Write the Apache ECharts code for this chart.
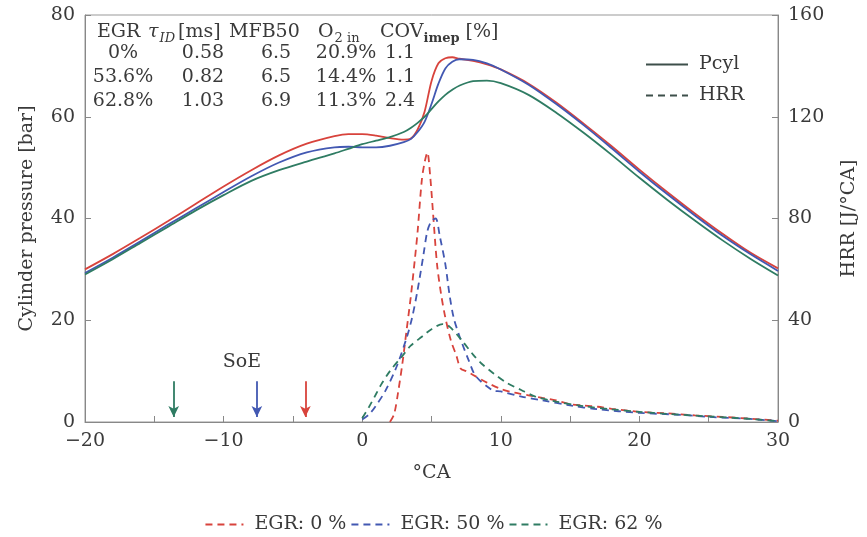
<!DOCTYPE html>
<html>
<head>
<meta charset="utf-8">
<script src="https://cdn.jsdelivr.net/npm/echarts@6/dist/echarts.min.js"></script>
<style>
  html, body { margin: 0; padding: 0; background: #fff; }
  #main { width: 867px; height: 537px; }
</style>
</head>
<body>
<div id="main"></div>
<script>
// crank angle grid for the pressure traces
var caP = [-20, -18, -16, -14, -12, -10, -8, -6, -4, -2, -1, 0, 1, 2, 3, 3.5, 4, 4.5, 5, 5.5, 6, 6.5, 7, 8, 9, 10, 12, 14, 16, 18, 20, 22, 24, 26, 28, 30];
var p0  = [30, 33, 36.2, 39.5, 42.9, 46.3, 49.5, 52.4, 54.7, 56.2, 56.6, 56.6, 56.3, 55.8, 55.5, 55.7, 57.5, 61, 67, 70.5, 71.5, 71.7, 71.4, 71, 70.3, 69.3, 66.5, 62.8, 58.6, 54.2, 49.6, 45.2, 41, 37, 33.3, 30.2];
var p50 = [29.3, 32.3, 35.5, 38.8, 42, 45.2, 48.3, 51, 53, 54, 54.1, 54, 54, 54.3, 55, 55.6, 57, 59, 62.5, 66.5, 69.5, 70.8, 71.3, 71.2, 70.5, 69.3, 66.3, 62.5, 58.3, 53.8, 49.2, 44.8, 40.6, 36.6, 33, 29.7];
var p62 = [29, 32, 35.2, 38.4, 41.6, 44.6, 47.4, 49.5, 51.2, 52.8, 53.7, 54.6, 55.3, 56, 57, 57.8, 58.8, 60, 61.5, 63, 64.3, 65.3, 66.1, 67, 67.1, 66.6, 64.3, 60.8, 56.8, 52.5, 48, 43.7, 39.6, 35.7, 32.1, 28.8];

// heat release rate traces
var ca0   = [2, 2.3, 2.6, 2.9, 3.2, 3.5, 3.8, 4, 4.3, 4.5, 4.7, 4.9, 5.1, 5.4, 5.7, 6, 6.4, 6.8, 7.1, 7.5, 8, 9, 10, 11, 12, 13, 14, 15, 16, 17, 18, 19, 20, 22, 24, 26, 28, 30];
var hrr0  = [0, 3, 12, 23, 36, 49, 64, 75, 95, 102, 106, 97, 83, 62, 50, 41, 32, 26, 21, 20, 18.5, 15.5, 13, 11.5, 10.5, 9.5, 8.5, 7, 6.5, 6, 5.2, 4.6, 4, 3.4, 2.6, 2, 1.3, 0.5];
var ca50  = [0, 0.5, 1, 1.7, 2.5, 3.2, 3.6, 4, 4.4, 4.7, 5, 5.3, 5.6, 6, 6.3, 6.6, 7, 7.2, 7.7, 8.2, 9.4, 10, 11.5, 13, 15, 17, 20, 23, 25, 28, 30];
var hrr50 = [1, 3, 6.5, 12.5, 22, 33, 41, 52, 65, 75, 79, 80, 73, 62, 50, 41, 34, 31, 24, 18, 12.5, 12, 10, 8.5, 6.5, 5, 3.6, 2.8, 2, 1.2, 0.3];
var ca62  = [0, 0.5, 1, 1.4, 2, 2.9, 3.5, 4.3, 5, 5.8, 6.3, 7.2, 8, 8.6, 9.5, 10.4, 11.5, 12.5, 14, 16, 18, 20, 22, 25, 28, 30];
var hrr62 = [1.5, 6, 11, 15, 20, 26, 30, 33.5, 36.5, 38.5, 37.5, 32, 26.5, 23, 19, 15.5, 12.5, 10, 8, 6.2, 5, 4, 3.2, 2.2, 1.2, 0.3];

// start of energizing for each case
var soe = [-4.1, -7.6, -13.6];

var egrNames = ['EGR: 0 %', 'EGR: 50 %', 'EGR: 62 %'];
var colors = ['#d8433c', '#4258b2', '#2f7c63'];

// table in the upper left
var tabHead = ['EGR', '{it|τ}{sub|ID}[ms]', 'MFB50', 'O{subr|2 in}', 'COV{subb|imep} [%]'];
var tabEgr  = ['0%', '53.6%', '62.8%'];
var tabTau  = ['0.58', '0.82', '1.03'];
var tabMfb  = ['6.5', '6.5', '6.9'];
var tabO2   = ['20.9%', '14.4%', '11.3%'];
var tabCov  = ['1.1', '1.1', '2.4'];

function pairs(xs, ys) {
  return xs.map(function (x, i) { return [x, ys[i]]; });
}

var font = 'DejaVu Serif';
var fs = 19;
var txtColor = '#3a3a3a';

var myChart = echarts.init(document.getElementById('main'));

var richStyles = {
  it: { fontFamily: font, fontStyle: 'italic', fontSize: fs, fill: txtColor, lineHeight: 26, verticalAlign: 'middle' },
  sub: { fontFamily: font, fontStyle: 'italic', fontSize: 13, fill: txtColor, lineHeight: 13, verticalAlign: 'bottom', padding: [0, 3, 0, 1] },
  subr: { fontFamily: font, fontSize: 13, fill: txtColor, lineHeight: 13, verticalAlign: 'bottom', padding: [0, 0, 0, 1] },
  subb: { fontFamily: font, fontWeight: 'bold', fontSize: 13, fill: txtColor, lineHeight: 13, verticalAlign: 'bottom' }
};

var graphics = [];
var headX = [97, 148, 229, 318, 380];
tabHead.forEach(function (h, i) {
  graphics.push({
    type: 'text', left: headX[i], top: 19,
    style: { text: h, fontFamily: font, fontSize: fs, fill: txtColor, lineHeight: 26, rich: richStyles }
  });
});
var colX = [123, 203, 276, 346, 400];
var rowY = [53, 77, 101];
[tabEgr, tabTau, tabMfb, tabO2, tabCov].forEach(function (col, c) {
  col.forEach(function (v, r) {
    graphics.push({
      type: 'text', x: colX[c], y: rowY[r],
      style: { text: v, fontFamily: font, fontSize: fs, fill: txtColor, align: 'center', verticalAlign: 'middle' }
    });
  });
});
graphics.push({
  type: 'text', x: 242, y: 362,
  style: { text: 'SoE', fontFamily: font, fontSize: fs, fill: txtColor, align: 'center', verticalAlign: 'middle' }
});

var series = [];
[p0, p50, p62].forEach(function (p, i) {
  series.push({
    name: 'Pcyl ' + egrNames[i],
    type: 'line',
    data: pairs(caP, p),
    smooth: 0.3,
    symbol: 'none',
    lineStyle: { color: colors[i], width: 1.8 },
    itemStyle: { color: colors[i] },
    z: 3,
    markLine: {
      silent: true,
      symbol: ['none', 'arrow'],
      symbolSize: [8, 11],
      label: { show: false },
      lineStyle: { color: colors[i], width: 1.8, type: 'solid' },
      data: [[{ coord: [soe[i], 8] }, { coord: [soe[i], 1] }]]
    }
  });
});
[[ca0, hrr0], [ca50, hrr50], [ca62, hrr62]].forEach(function (d, i) {
  series.push({
    name: egrNames[i],
    type: 'line',
    yAxisIndex: 1,
    data: pairs(d[0], d[1]),
    smooth: 0.3,
    symbol: 'none',
    lineStyle: { color: colors[i], width: 1.8, type: [7, 5] },
    itemStyle: { color: colors[i] },
    z: 2
  });
});
// legend-only entries
series.push({ name: 'Pcyl', type: 'line', data: [], symbol: 'none', lineStyle: { color: '#3d4f4a', width: 1.8 }, itemStyle: { color: '#3d4f4a' } });
series.push({ name: 'HRR', type: 'line', data: [], symbol: 'none', lineStyle: { color: '#3d4f4a', width: 1.8, type: [7, 5] }, itemStyle: { color: '#3d4f4a' } });

var axisLabelStyle = { fontFamily: font, fontSize: fs, color: txtColor };

var option = {
  animation: false,
  backgroundColor: '#fff',
  grid: { left: 85, right: 86, top: 15, bottom: 115, show: true, borderColor: '#999', borderWidth: 1 },
  legend: [
    {
      data: ['Pcyl', 'HRR'],
      orient: 'vertical',
      left: 640, top: 50,
      itemWidth: 42, itemHeight: 12, itemGap: 12,
      itemStyle: { opacity: 0 },
      textStyle: { fontFamily: font, fontSize: fs, color: txtColor, padding: [0, 0, 0, 6] }
    },
    {
      data: egrNames,
      left: 'center', top: 510,
      itemWidth: 38, itemHeight: 12, itemGap: 4,
      itemStyle: { opacity: 0 },
      textStyle: { fontFamily: font, fontSize: fs, color: txtColor, padding: [0, 0, 0, 6] }
    }
  ],
  xAxis: {
    type: 'value',
    min: -20, max: 30, interval: 5,
    name: '°CA',
    nameLocation: 'middle',
    nameGap: 42,
    nameTextStyle: axisLabelStyle,
    axisLine: { lineStyle: { color: '#888' } },
    axisTick: { inside: true, length: 6, lineStyle: { color: '#888' } },
    splitLine: { show: false },
    axisLabel: {
      fontFamily: font, fontSize: fs, color: txtColor, margin: 10,
      formatter: function (v) {
        if (v % 10 !== 0) return '';
        return v < 0 ? '\u2212' + (-v) : String(v);
      }
    }
  },
  yAxis: [
    {
      type: 'value',
      min: 0, max: 80, interval: 20,
      name: 'Cylinder pressure [bar]',
      nameLocation: 'middle',
      nameGap: 48,
      nameTextStyle: axisLabelStyle,
      axisLine: { show: true, onZero: false, lineStyle: { color: '#888' } },
      axisTick: { show: true, inside: true, length: 6, lineStyle: { color: '#888' } },
      splitLine: { show: false },
      axisLabel: { fontFamily: font, fontSize: fs, color: txtColor, margin: 10 }
    },
    {
      type: 'value',
      min: 0, max: 160, interval: 40,
      name: 'HRR [J/°CA]',
      nameLocation: 'middle',
      nameGap: 62,
      nameRotate: 90,
      nameTextStyle: axisLabelStyle,
      axisLine: { show: true, onZero: false, lineStyle: { color: '#888' } },
      axisTick: { show: true, inside: true, length: 6, lineStyle: { color: '#888' } },
      splitLine: { show: false },
      axisLabel: { fontFamily: font, fontSize: fs, color: txtColor, margin: 10 }
    }
  ],
  graphic: graphics,
  series: series
};

myChart.setOption(option);
window.onresize = function () {
  myChart.resize();
};
</script>
</body>
</html>
